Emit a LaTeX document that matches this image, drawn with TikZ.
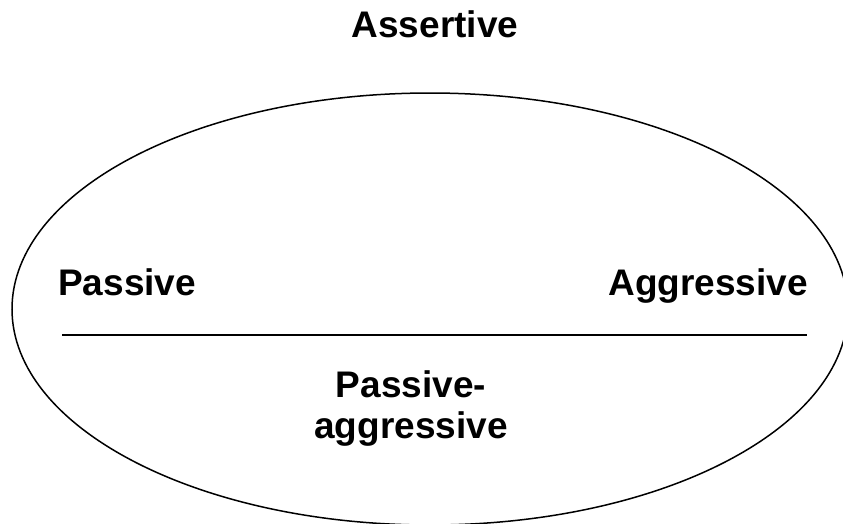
\documentclass[tikz,border=0pt]{standalone}
\usepackage{fontspec}
\setmainfont{Liberation Sans}
\usetikzlibrary{shapes.geometric}

\begin{document}
\begin{tikzpicture}[x=1pt, y=-1pt,
        stylelabel/.style={font=\bfseries\fontsize{37}{41}\selectfont, inner sep=0pt}]
        \useasboundingbox (0,0) rectangle (843,523);
        \clip (0,0) rectangle (843,523);

        \node[draw, ellipse, line width=1.5pt, minimum width=836pt, minimum height=432pt, inner sep=0pt] (styles) at (430,309) {};

        \node[stylelabel, anchor=base] (assertive) at (435,37) {Assertive};
        \node[stylelabel, anchor=base west] (passive) at (58,295) {Passive};
        \node[stylelabel, anchor=base east] (aggressive) at (808,295) {Aggressive};
        \node[stylelabel, align=center, anchor=north] (passaggr) at (411,370) {Passive-\\aggressive};

        \coordinate (divleft) at (62,335);
        \coordinate (divright) at (807,335);
        \draw[line width=1.5pt] (divleft) -- (divright);
    \end{tikzpicture}
\end{document}
